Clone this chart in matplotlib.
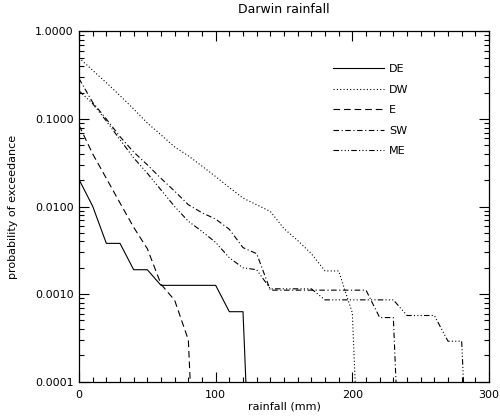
import numpy as np
import matplotlib
matplotlib.use("Agg")
import matplotlib.pyplot as plt
from matplotlib.ticker import FixedLocator, FormatStrFormatter, LogLocator, NullFormatter, MultipleLocator

# ---- data (probability of exceedance at 10 mm rainfall steps; 0 = no exceedance) ----
rain_de = [0, 10, 20, 30, 40, 50, 60, 70, 80, 90, 100, 110, 120, 130]
p_de = [0.0204, 0.0101, 0.0038, 0.0038, 0.0019, 0.0019, 0.00126, 0.00126,
        0.00126, 0.00126, 0.00126, 0.00063, 0.00063, 0.0]

rain_dw = list(range(0, 220, 10))
p_dw = [0.50, 0.36, 0.26, 0.185, 0.13, 0.09, 0.066, 0.048, 0.038, 0.029,
        0.022, 0.0165, 0.0125, 0.0105, 0.0088, 0.0056, 0.0041, 0.0029,
        0.00184, 0.00184, 0.00061, 0.0]

rain_e = list(range(0, 100, 10))
p_e = [0.085, 0.040, 0.021, 0.011, 0.0058, 0.0033, 0.0013, 0.00085, 0.0003, 0.0]

rain_sw = list(range(0, 250, 10))
p_sw = [0.29, 0.155, 0.10, 0.063, 0.042, 0.030, 0.021, 0.0150, 0.0105, 0.0085,
        0.0072, 0.0055, 0.0034, 0.0029, 0.00111, 0.00111, 0.00111, 0.00111,
        0.00111, 0.00111, 0.00111, 0.00111, 0.00054, 0.00054, 0.0]

rain_me = list(range(0, 300, 10))
p_me = [0.21, 0.15, 0.095, 0.058, 0.036, 0.024, 0.0155, 0.0100, 0.0068, 0.0052,
        0.0039, 0.0026, 0.0020, 0.0019, 0.00115, 0.00115, 0.00115, 0.00115,
        0.00086, 0.00086, 0.00086, 0.00086, 0.00086, 0.00086, 0.00057, 0.00057,
        0.00057, 0.00029, 0.00029, 0.0]

labels = ["DE", "DW", "E", "SW", "ME"]
y_ticks = [1e-4, 1e-3, 1e-2, 1e-1, 1.0]
x_ticks = [0, 100, 200, 300]

styles = {
    "DE": "-",
    "DW": (0, (1.0, 2.0)),
    "E": (0, (6.0, 3.5)),
    "SW": (0, (5.0, 2.3, 1.0, 2.3)),
    "ME": (0, (5.0, 2.0, 1.0, 2.0, 1.0, 2.0, 1.0, 2.0)),
}

series = {
    "DE": (rain_de, p_de),
    "DW": (rain_dw, p_dw),
    "E": (rain_e, p_e),
    "SW": (rain_sw, p_sw),
    "ME": (rain_me, p_me),
}

plt.rcParams['font.family'] = ['DejaVu Sans']
fig = plt.figure(figsize=(5.0, 4.17), dpi=100)
ax = fig.add_axes([0.158, 0.0847, 0.820, 0.8398])

for name in labels:
    x, p = series[name]
    p = np.asarray(p, dtype=float)
    p_plot = np.where(p > 0, p, 1e-7)  # zero exceedance drawn down off the log axis
    ax.plot(x, p_plot, color="black", lw=0.8, linestyle=styles[name], label=name)

ax.set_yscale("log")
ax.set_xlim(0, 300)
ax.set_ylim(1e-4, 1.0)

ax.yaxis.set_major_locator(FixedLocator(y_ticks))
ax.yaxis.set_major_formatter(FormatStrFormatter("%.4f"))
ax.yaxis.set_minor_locator(LogLocator(base=10, subs=np.arange(2, 10), numticks=20))
ax.yaxis.set_minor_formatter(NullFormatter())
ax.xaxis.set_major_locator(FixedLocator(x_ticks))
ax.xaxis.set_minor_locator(MultipleLocator(10))

ax.tick_params(which="both", direction="in", top=True, right=True, labelsize=8, width=0.8)
ax.tick_params(axis="x", pad=6)
ax.tick_params(axis="y", pad=4)
ax.tick_params(which="major", length=7)
ax.tick_params(which="minor", length=3.5)
for s in ax.spines.values():
    s.set_linewidth(0.9)

ax.set_title("Darwin rainfall", fontsize=9, pad=13)
ax.set_xlabel("rainfall (mm)", fontsize=8, labelpad=1)
ax.set_ylabel("probability of exceedance", fontsize=8, labelpad=12)

leg = ax.legend(loc="upper left", bbox_to_anchor=(0.62, 0.907), frameon=False, fontsize=8,
                handlelength=4.6, handletextpad=0.4, labelspacing=0.95,
                borderpad=0, borderaxespad=0)

fig.savefig("out.png", dpi=100)
